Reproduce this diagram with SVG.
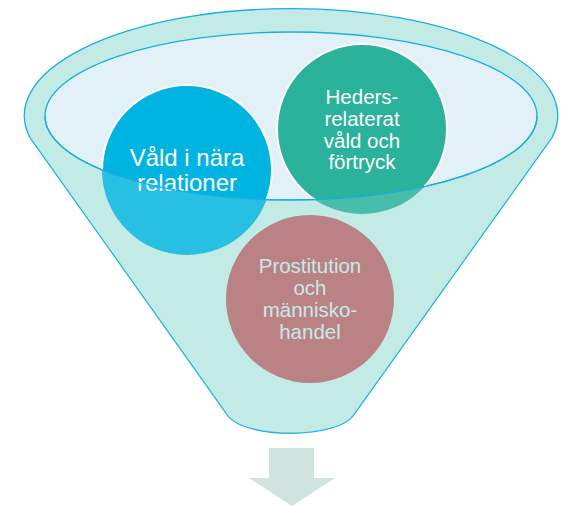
<svg xmlns="http://www.w3.org/2000/svg" width="566" height="506" viewBox="0 0 566 506">
<style>
.rim{stroke:#1aaee0;stroke-width:1.3;}
.ring{fill:none;stroke:#ffffff;stroke-width:2;}
text{font-family:"Liberation Sans",Arial,sans-serif;text-anchor:middle;}
</style>
<defs>
<clipPath id="bowl"><ellipse cx="291" cy="116" rx="246" ry="84"/></clipPath>
</defs>
<rect width="566" height="506" fill="#ffffff"/>
<g id="funnel">
<path class="rim" d="M30,137.6 A266.7,107 0 1 1 552,137.6 L355,413 C341,440 240,440 226,413 Z" fill="#c2ebe6"/>
<ellipse class="rim" cx="291" cy="116" rx="246" ry="84" fill="#e2f0f7"/>
</g>
<g id="node-vald">
<circle cx="187" cy="170" r="85" fill="#00b4e1"/>
<circle class="ring" cx="187" cy="170" r="85" clip-path="url(#bowl)"/>
<text font-size="24" fill="#ffffff"><tspan x="187" y="166">Våld i nära</tspan><tspan x="187" y="191">relationer</tspan></text>
</g>
<g id="node-heders">
<circle cx="362" cy="129" r="85" fill="#2ab29a"/>
<circle class="ring" cx="362" cy="129" r="85" clip-path="url(#bowl)"/>
<text font-size="20.5" fill="#ffffff"><tspan x="362" y="104">Heders-</tspan><tspan x="362" y="126">relaterat</tspan><tspan x="362" y="148">våld och</tspan><tspan x="362" y="169">förtryck</tspan></text>
</g>
<g id="funnel-front">
<path d="M45,116 A246,84 0 0 0 537,116 L552,137.6 L355,413 C341,440 240,440 226,413 L30,137.6 Z" fill="#c2ebe6" fill-opacity="0.2"/>
<path class="rim" d="M45,116 A246,84 0 0 0 537,116" fill="none"/>
</g>
<g id="node-prost">
<circle cx="310" cy="299" r="84" fill="#bb8286"/>
<text font-size="20.5" fill="#c5ebe6"><tspan x="310" y="273">Prostitution</tspan><tspan x="310" y="295">och</tspan><tspan x="310" y="317">människo-</tspan><tspan x="310" y="339">handel</tspan></text>
</g>
<g id="connectors">
<polygon points="269,448 314,448 314,478 335,478 292,506 249,478 269,478" fill="#cfe4df"/>
</g>
</svg>
